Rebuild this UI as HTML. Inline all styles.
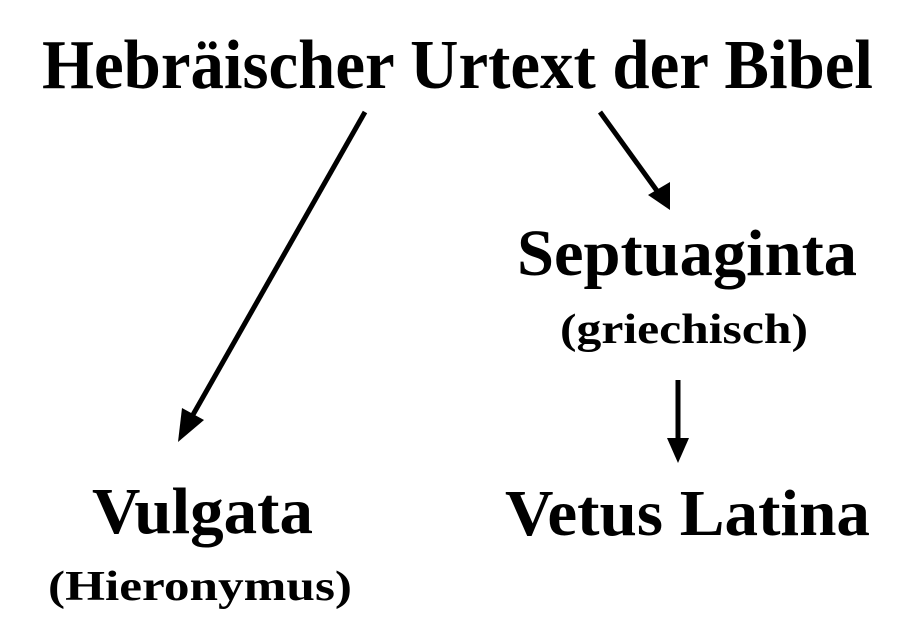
<!DOCTYPE html>
<html><head><meta charset="utf-8"><style>
html,body{margin:0;padding:0;background:#fff;}
svg{display:block;}
text{font-family:"Liberation Serif",serif;font-weight:bold;fill:#000;}
</style></head><body>
<svg width="910" height="640" viewBox="0 0 910 640" xmlns="http://www.w3.org/2000/svg">
<text x="42" y="88" font-size="70" textLength="831" lengthAdjust="spacingAndGlyphs">Hebräischer Urtext der Bibel</text>
<text x="517" y="275" font-size="66" textLength="340" lengthAdjust="spacingAndGlyphs">Septuaginta</text>
<text x="560" y="343" font-size="42" textLength="248" lengthAdjust="spacingAndGlyphs">(griechisch)</text>
<text x="92" y="533" font-size="66" textLength="221" lengthAdjust="spacingAndGlyphs">Vulgata</text>
<text x="48" y="600" font-size="42" textLength="304" lengthAdjust="spacingAndGlyphs">(Hieronymus)</text>
<text x="505" y="535" font-size="66" textLength="365" lengthAdjust="spacingAndGlyphs">Vetus Latina</text>
<g stroke="#000" stroke-width="5" fill="none">
<line x1="365" y1="112" x2="190" y2="420"/>
<line x1="600" y1="112" x2="660" y2="195"/>
<line x1="678" y1="380" x2="678" y2="445"/>
</g>
<g fill="#000">
<polygon points="178,442 182,408 204,420"/>
<polygon points="670,210 648,195 670,182"/>
<polygon points="678,463 667,438 689,438"/>
</g>
</svg>
</body></html>
